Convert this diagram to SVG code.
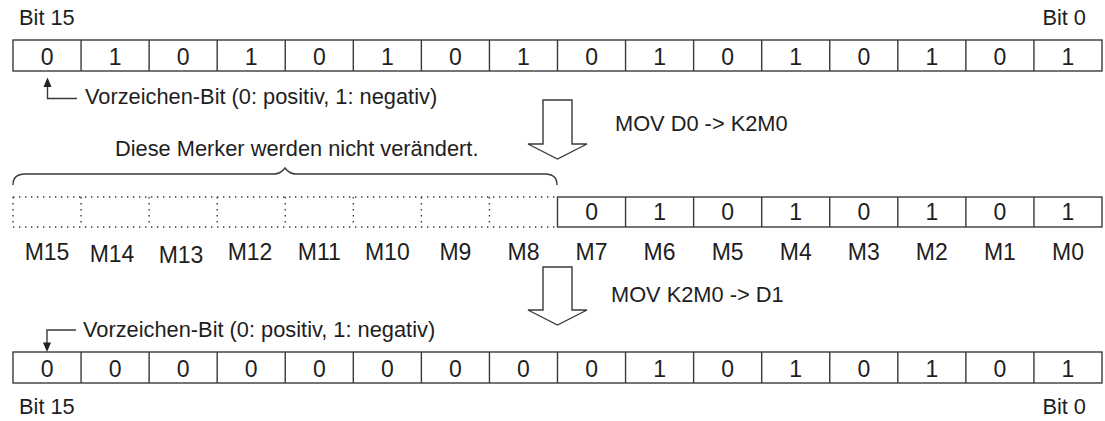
<svg xmlns="http://www.w3.org/2000/svg" width="1105" height="421" viewBox="0 0 1105 421">
<style>
text{font-family:"Liberation Sans",Arial,Helvetica,sans-serif;fill:#1e1e1e;}
.t{font-size:21.8px;}
.d{font-size:23px;text-anchor:middle;}
.m{font-size:23px;text-anchor:middle;}
.cell{fill:#fff;stroke:#3a3a3a;stroke-width:1.4;}
.dot{fill:none;stroke:#3a3a3a;stroke-width:1.4;stroke-dasharray:1.4 4.6;}
.ln{fill:none;stroke:#3a3a3a;stroke-width:1.4;}
.big{fill:#fff;stroke:#3a3a3a;stroke-width:1.4;stroke-linejoin:miter;}
.head{fill:#222;}
</style>

<g id="labels-top">
<text class="t" x="19" y="25">Bit 15</text>
<text class="t" x="1086" y="25" text-anchor="end">Bit 0</text>
</g>

<g id="row1">
<rect class="cell" x="13" y="40" width="1089" height="31"/>
<path class="ln" d="M81.06,40V71M149.13,40V71M217.19,40V71M285.25,40V71M353.31,40V71M421.38,40V71M489.44,40V71M557.5,40V71M625.56,40V71M693.63,40V71M761.69,40V71M829.75,40V71M897.81,40V71M965.88,40V71M1033.94,40V71"/>
<text class="d" x="47.03" y="64.5">0</text>
<text class="d" x="115.09" y="64.5">1</text>
<text class="d" x="183.16" y="64.5">0</text>
<text class="d" x="251.22" y="64.5">1</text>
<text class="d" x="319.28" y="64.5">0</text>
<text class="d" x="387.34" y="64.5">1</text>
<text class="d" x="455.41" y="64.5">0</text>
<text class="d" x="523.47" y="64.5">1</text>
<text class="d" x="591.53" y="64.5">0</text>
<text class="d" x="659.59" y="64.5">1</text>
<text class="d" x="727.66" y="64.5">0</text>
<text class="d" x="795.72" y="64.5">1</text>
<text class="d" x="863.78" y="64.5">0</text>
<text class="d" x="931.84" y="64.5">1</text>
<text class="d" x="999.91" y="64.5">0</text>
<text class="d" x="1067.97" y="64.5">1</text>
</g>

<g id="sign-label-1">
<text class="t" x="85" y="104">Vorzeichen-Bit (0: positiv, 1: negativ)</text>
</g>

<g id="mov1-label">
<text class="t" x="615" y="131">MOV D0 -&gt; K2M0</text>
</g>

<g id="brace-label">
<text class="t" x="115" y="156">Diese Merker werden nicht verändert.</text>
</g>

<g id="row2">
<path class="dot" d="M13,197H557.5M13,227H557.5M13,197V227M81.06,197V227M149.13,197V227M217.19,197V227M285.25,197V227M353.31,197V227M421.38,197V227M489.44,197V227"/>
<rect class="cell" x="557.5" y="197" width="544.5" height="30"/>
<path class="ln" d="M625.56,197V227M693.63,197V227M761.69,197V227M829.75,197V227M897.81,197V227M965.88,197V227M1033.94,197V227"/>
<text class="d" x="591.53" y="220">0</text>
<text class="d" x="659.59" y="220">1</text>
<text class="d" x="727.66" y="220">0</text>
<text class="d" x="795.72" y="220">1</text>
<text class="d" x="863.78" y="220">0</text>
<text class="d" x="931.84" y="220">1</text>
<text class="d" x="999.91" y="220">0</text>
<text class="d" x="1067.97" y="220">1</text>
</g>

<g id="marker-labels">
<text class="m" x="47" y="260">M15</text>
<text class="m" x="112" y="262">M14</text>
<text class="m" x="181" y="263">M13</text>
<text class="m" x="250" y="260">M12</text>
<text class="m" x="319.28" y="260">M11</text>
<text class="m" x="387.34" y="260">M10</text>
<text class="m" x="455.41" y="260">M9</text>
<text class="m" x="523.47" y="260">M8</text>
<text class="m" x="591.53" y="260">M7</text>
<text class="m" x="659.59" y="260">M6</text>
<text class="m" x="727.66" y="260">M5</text>
<text class="m" x="795.72" y="260">M4</text>
<text class="m" x="863.78" y="260">M3</text>
<text class="m" x="931.84" y="260">M2</text>
<text class="m" x="999.91" y="260">M1</text>
<text class="m" x="1067.97" y="260">M0</text>
</g>

<g id="mov2-label">
<text class="t" x="611" y="302">MOV K2M0 -&gt; D1</text>
</g>

<g id="sign-label-2">
<text class="t" x="83" y="337">Vorzeichen-Bit (0: positiv, 1: negativ)</text>
</g>

<g id="row3">
<rect class="cell" x="13" y="352" width="1089" height="31"/>
<path class="ln" d="M81.06,352V383M149.13,352V383M217.19,352V383M285.25,352V383M353.31,352V383M421.38,352V383M489.44,352V383M557.5,352V383M625.56,352V383M693.63,352V383M761.69,352V383M829.75,352V383M897.81,352V383M965.88,352V383M1033.94,352V383"/>
<text class="d" x="47.03" y="376.5">0</text>
<text class="d" x="115.09" y="376.5">0</text>
<text class="d" x="183.16" y="376.5">0</text>
<text class="d" x="251.22" y="376.5">0</text>
<text class="d" x="319.28" y="376.5">0</text>
<text class="d" x="387.34" y="376.5">0</text>
<text class="d" x="455.41" y="376.5">0</text>
<text class="d" x="523.47" y="376.5">0</text>
<text class="d" x="591.53" y="376.5">0</text>
<text class="d" x="659.59" y="376.5">1</text>
<text class="d" x="727.66" y="376.5">0</text>
<text class="d" x="795.72" y="376.5">1</text>
<text class="d" x="863.78" y="376.5">0</text>
<text class="d" x="931.84" y="376.5">1</text>
<text class="d" x="999.91" y="376.5">0</text>
<text class="d" x="1067.97" y="376.5">1</text>
</g>

<g id="labels-bottom">
<text class="t" x="19" y="414">Bit 15</text>
<text class="t" x="1086" y="414" text-anchor="end">Bit 0</text>
</g>

<g id="connectors">
<path class="ln" d="M77,98.5H47.5V86"/>
<polygon class="head" points="47.5,77.5 43.5,87 51.5,87"/>
<path class="ln" d="M76,330H47V343"/>
<polygon class="head" points="47,352 43,342.5 51,342.5"/>
<polygon class="big" points="543,100 572,100 572,144 587,144 557.5,159 528,144 543,144"/>
<polygon class="big" points="543,267 572,267 572,310 587,310 557.5,325 528,310 543,310"/>
<path class="ln" d="M13,185C13,178 17,174 25,174H274C279,174 282,172 285,168C288,172 291,174 296,174H545C553,174 557,178 557,185"/>
</g>
</svg>
